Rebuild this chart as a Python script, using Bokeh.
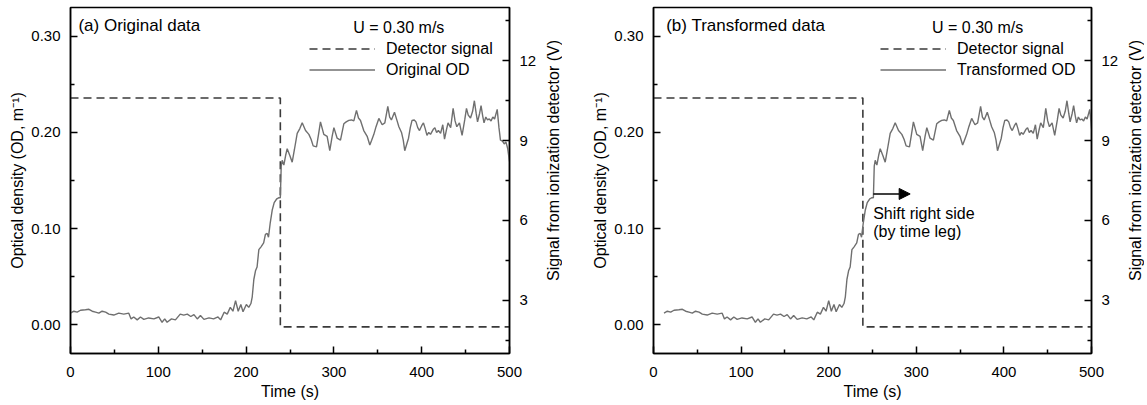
import math
from bokeh.plotting import figure
from bokeh.models import (Range1d, LinearAxis, FixedTicker, PrintfTickFormatter,
                          Legend, LegendItem, Label, Arrow, NormalHead)
from bokeh.layouts import row
from bokeh.embed import file_html
from bokeh.resources import INLINE

# ---------------- data ----------------
time_s = [0, 3.8, 7.6, 11.4, 17, 21, 24.7, 28.5, 32.3, 36, 40, 43.7, 49.3, 55, 60.7, 66.4,
          69, 72, 76, 79.7, 83.5, 89, 95, 100.5, 104.3, 107.3, 110, 115, 119.5, 125, 129,
          133, 137, 140.6, 144.4, 148, 152, 157.7, 163, 168, 171, 175, 178.5, 182, 185,
          188, 191, 194, 196.5, 200.3, 203, 205.5,
          207, 208.8, 210.7, 212.5, 214.5, 217, 220, 222, 224, 225.5, 227.5, 229.7, 232,
          235, 237, 239,
          240, 241.1, 243, 245, 246.8, 249.8, 252.5, 255, 258.2, 261.2, 263.9, 267.7,
          271.5, 274, 276.4, 280.2, 282.5, 284.7, 288.5, 292.3, 295.3, 298, 300, 303.7,
          307.5, 311.3, 314, 317, 320, 322.7, 325.7, 328, 330.3, 334, 337.9, 340.9, 343,
          345.5, 348, 351.2, 355, 358, 361.4, 363.5, 365.5, 369, 372, 374, 377, 379,
          380.7, 383, 385, 387, 389, 391.5, 393.5, 395.5, 397.5, 400, 402, 404, 406, 408,
          410, 413, 415, 417, 419, 421.5, 424, 426, 428, 430, 433, 435.8, 438, 440, 443,
          446, 449, 451, 453, 455.6, 458, 460, 462, 463.6, 466, 467.6, 469.5, 471, 473,
          475, 477, 479, 481, 483, 486, 488, 489.7, 492, 494, 496, 498, 500]
od_original = [0.012, 0.014, 0.013, 0.015, 0.0155, 0.016, 0.014, 0.013, 0.012, 0.014, 0.013,
               0.011, 0.010, 0.012, 0.011, 0.012,
               0.006, 0.008, 0.005, 0.008, 0.0055, 0.007, 0.006, 0.008, 0.0025, 0.006,
               0.0025, 0.006, 0.005, 0.011, 0.010,
               0.011, 0.0085, 0.0105, 0.006, 0.0095, 0.0055, 0.007, 0.006, 0.008, 0.005,
               0.013, 0.011, 0.018, 0.014,
               0.025, 0.014, 0.021, 0.0135, 0.021, 0.018, 0.022,
               0.029, 0.047, 0.056, 0.060, 0.078, 0.081, 0.085, 0.094, 0.095, 0.091, 0.106,
               0.119, 0.127,
               0.131, 0.132, 0.132,
               0.165, 0.171, 0.166, 0.176, 0.183, 0.176, 0.169, 0.182, 0.199, 0.204, 0.210,
               0.202,
               0.198, 0.193, 0.186, 0.185, 0.198, 0.211, 0.198, 0.196, 0.181, 0.196, 0.205,
               0.194,
               0.192, 0.209, 0.211, 0.2125, 0.213, 0.212, 0.223, 0.215, 0.2125, 0.202, 0.196,
               0.187, 0.192,
               0.198, 0.206, 0.2146, 0.208, 0.210, 0.227, 0.216, 0.213, 0.221, 0.212, 0.206,
               0.200, 0.192,
               0.181, 0.188, 0.194, 0.205, 0.2125, 0.213, 0.211, 0.205, 0.202, 0.207, 0.210,
               0.204, 0.197, 0.200,
               0.198, 0.203, 0.205, 0.200, 0.202, 0.199, 0.208, 0.193, 0.202, 0.210, 0.205,
               0.225, 0.212, 0.206, 0.210,
               0.197, 0.213, 0.225, 0.218, 0.215, 0.222, 0.233, 0.220, 0.211, 0.220, 0.228,
               0.217, 0.210, 0.216,
               0.213, 0.214, 0.212, 0.216, 0.214, 0.224, 0.205, 0.192, 0.191, 0.188, 0.190,
               0.183, 0.170]

TIME_LAG = 12  # shift applied in the transformed data (s)
time_transformed = [t + TIME_LAG for t in time_s]

det_time = [0, 239, 239, 500]
det_signal = [10.6, 10.6, 2.0, 2.0]

x_ticks = [0, 100, 200, 300, 400, 500]
x_minor = [50, 150, 250, 350, 450]
od_ticks = [0.0, 0.1, 0.2, 0.3]
od_minor = [0.05, 0.15, 0.25]
sig_ticks = [3, 6, 9, 12]
sig_minor = [1.5, 4.5, 7.5, 10.5, 13.5]

FONT = "Liberation Sans"
OD_COLOR = "#6f6f6f"
DET_COLOR = "#3a3a3a"
TEXT_COLOR = "black"
HEIGHT = 405
RIGHT_TITLE = "Signal from ionization detector (V)"


def style_axis(ax, standoff, label_standoff):
    ax.axis_line_width = 1.5
    ax.axis_line_color = "black"
    ax.major_tick_in = 7
    ax.major_tick_out = 0
    ax.minor_tick_in = 4
    ax.minor_tick_out = 0
    ax.major_tick_line_width = 1.5
    ax.minor_tick_line_width = 1.5
    ax.major_tick_line_color = "black"
    ax.minor_tick_line_color = "black"
    ax.major_label_text_font = FONT
    ax.major_label_text_font_size = "15px"
    ax.major_label_text_color = TEXT_COLOR
    ax.major_label_standoff = standoff
    ax.axis_label_text_font = FONT
    ax.axis_label_text_font_size = "16px"
    ax.axis_label_text_font_style = "normal"
    ax.axis_label_text_color = TEXT_COLOR
    ax.axis_label_standoff = label_standoff


def text_label(x, y, text, size="16px", **kw):
    return Label(x=x, y=y, text=text, text_font=FONT, text_font_size=size,
                 text_color=TEXT_COLOR, text_baseline="middle", **kw)


def make_panel(width, b_left, b_right, panel_text, panel_x, od_t, od_label,
               legend_dx, u_x):
    p = figure(width=width, height=HEIGHT, output_backend="svg", toolbar_location=None,
               x_range=Range1d(0, 500), y_range=Range1d(-0.03, 0.33),
               min_border_left=b_left, min_border_right=b_right,
               min_border_top=7, min_border_bottom=52)
    p.extra_y_ranges = {"sig": Range1d(1, 14)}
    p.grid.visible = False
    p.outline_line_color = "black"
    p.outline_line_width = 1.5
    p.background_fill_color = "white"
    p.border_fill_color = "white"

    xa = p.xaxis[0]
    xa.ticker = FixedTicker(ticks=x_ticks, minor_ticks=x_minor)
    xa.axis_label = "Time (s)"
    style_axis(xa, 13, 3)

    ya = p.yaxis[0]
    ya.ticker = FixedTicker(ticks=od_ticks, minor_ticks=od_minor)
    ya.formatter = PrintfTickFormatter(format="%.2f")
    ya.axis_label = "Optical density (OD, m\u207b\u00b9)"
    style_axis(ya, 10, 2)

    ra = LinearAxis(y_range_name="sig")
    ra.ticker = FixedTicker(ticks=sig_ticks, minor_ticks=sig_minor)
    style_axis(ra, 10, 0)
    p.add_layout(ra, "right")

    det_r = p.line(det_time, det_signal, y_range_name="sig", line_color=DET_COLOR,
                   line_width=1.6, line_dash="8 5")
    od_r = p.line(od_t, od_original, line_color=OD_COLOR, line_width=1.4)

    legend = Legend(items=[LegendItem(label="Detector signal", renderers=[det_r]),
                           LegendItem(label=od_label, renderers=[od_r])],
                    location=(legend_dx, 273))
    legend.label_text_font = FONT
    legend.label_text_font_size = "16px"
    legend.label_text_color = TEXT_COLOR
    legend.glyph_width = 66
    legend.glyph_height = 21
    legend.label_height = 21
    legend.label_standoff = 11
    legend.spacing = 0
    legend.padding = 0
    legend.margin = 0
    legend.border_line_alpha = 0
    legend.background_fill_alpha = 0
    p.add_layout(legend)

    p.add_layout(text_label(panel_x, 0.311, panel_text, size="17px"))
    p.add_layout(text_label(u_x, 0.309, "U = 0.30 m/s"))
    return p


def make_side_title(width, text):
    # narrow strip holding the right-hand axis title, read bottom to top
    s = figure(width=width, height=HEIGHT, output_backend="svg", toolbar_location=None,
               x_range=Range1d(0, 1), y_range=Range1d(0, 1),
               x_axis_location=None, y_axis_location=None,
               min_border_left=0, min_border_right=0, min_border_top=0,
               min_border_bottom=0)
    s.grid.visible = False
    s.outline_line_color = None
    s.background_fill_color = "white"
    s.border_fill_color = "white"
    s.add_layout(text_label(0.5, 0.558, text, text_align="center", angle=math.pi / 2))
    return s


p1 = make_panel(544, 70, 35, "(a) Original data", 9, time_s, "Original OD", 239, 322)
s1 = make_side_title(18, RIGHT_TITLE)
p2 = make_panel(564, 91, 35, "(b) Transformed data", 14.5, time_transformed,
                "Transformed OD", 227, 318)
s2 = make_side_title(18, RIGHT_TITLE)

ARROW_T0, ARROW_T1, ARROW_OD = 251, 293, 0.136
p2.add_layout(Arrow(end=NormalHead(size=11, fill_color="black", line_color="black"),
                    x_start=ARROW_T0, y_start=ARROW_OD, x_end=ARROW_T1, y_end=ARROW_OD,
                    line_width=1.5, line_color="black"))
p2.add_layout(text_label(250.8, 0.116, "Shift right side"))
p2.add_layout(text_label(250.8, 0.097, "(by time leg)"))

layout = row(p1, s1, p2, s2)
open("out.html", "w").write(file_html(layout, INLINE))
